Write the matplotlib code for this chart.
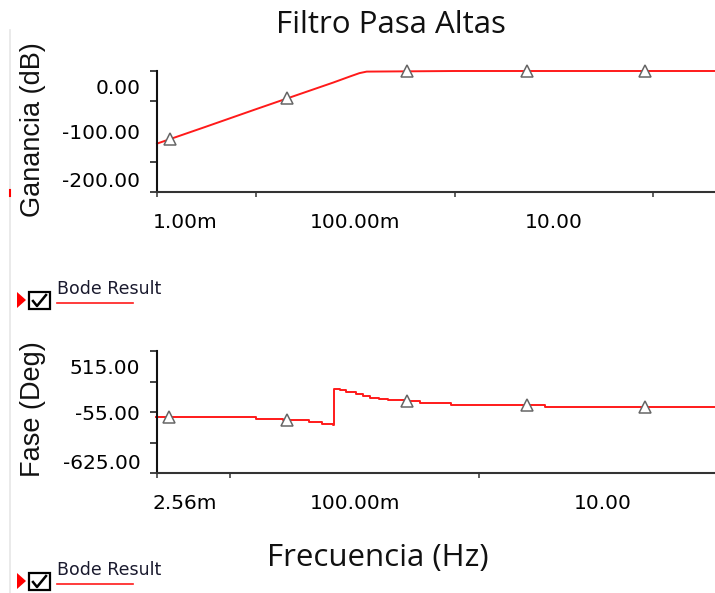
import numpy as np
import matplotlib
matplotlib.use("Agg")
import matplotlib.pyplot as plt
from matplotlib.ticker import FixedLocator, FixedFormatter, NullFormatter
from matplotlib.lines import Line2D
from matplotlib.patches import Polygon, Rectangle

W, H = 715, 593

# gain curve (Hz, dB)
gain_freq = [1e-3, 3e-3, 1e-2, 3e-2, 6e-2, 9e-2, 0.11, 0.13, 1.0, 10.0, 100.0, 422.0]
gain_db = [-120, -93, -63, -36, -19, -8.5, -3.5, -1, 0, 0, 0, 0]
gain_mk_freq = [1.35e-3, 0.0204, 0.331, 5.37, 83.0]
gain_mk_db = [-112, -44, 0, 0, 0]

# phase curve, stepwise as the simulator drew it (Hz, deg)
phase_freq = [2.53e-3, 0.0161, 0.0263, 0.0426, 0.055, 0.0665, 0.0678, 0.0757,
              0.0857, 0.103, 0.116, 0.132, 0.158, 0.185, 0.253, 0.334, 0.603,
              3.40, 80.0]
phase_deg = [-102, -120, -132, -148, -163, -173, 164, 148, 129, 111, 92, 80,
             70, 61, 48, 29, 9, -7, -7]
phase_mk_freq = [3.22e-3, 0.0283, 0.262, 2.44, 21.8]
phase_mk_deg = [-102, -132, 48, 9, -7]

gain_ticks = [0, -50, -100, -150, -200]
gain_lbl_pos = [-26, -100, -180]
gain_lbl = ["0.00", "-100.00", "-200.00"]
phase_ticks = [515, 230, -55, -340, -625]
phase_lbl_pos = [368, -62, -519]
phase_lbl = ["515.00", "-55.00", "-625.00"]

fx_top_ticks = [1e-3, 1e-2, 1e-1, 1, 10, 100]
fx_top_lbl_pos = [1.91e-3, 0.1, 10]
fx_top_lbl = ["1.00m", "100.00m", "10.00"]
fx_bot_ticks = [2.56e-3, 1e-2, 1e-1, 1, 10]
fx_bot_lbl_pos = [4.26e-3, 0.1, 10]
fx_bot_lbl = ["2.56m", "100.00m", "10.00"]

RED = "#ff1a1a"
TICK_FONT = dict(family="DejaVu Sans", size=14.5)


def frac(x, y):
    return x / W, 1 - y / H


def box(left, top, right, bottom):
    return [left / W, 1 - bottom / H, (right - left) / W, (bottom - top) / H]


def style_axes(ax, yt, ylp, yl, xt, xlp, xl):
    for s in ("top", "right"):
        ax.spines[s].set_visible(False)
    ax.spines["left"].set_linewidth(1.5)
    ax.spines["left"].set_color("#111111")
    ax.spines["bottom"].set_linewidth(1.5)
    ax.spines["bottom"].set_color("#333333")
    ax.set_xscale("log")
    # visible tick marks are minor ticks, labels sit on length-0 major ticks
    ax.yaxis.set_minor_locator(FixedLocator(yt))
    ax.yaxis.set_major_locator(FixedLocator(ylp))
    ax.yaxis.set_major_formatter(FixedFormatter(yl))
    ax.xaxis.set_minor_locator(FixedLocator(xt))
    ax.xaxis.set_minor_formatter(NullFormatter())
    ax.xaxis.set_major_locator(FixedLocator(xlp))
    ax.xaxis.set_major_formatter(FixedFormatter(xl))
    ax.tick_params(axis="y", which="minor", length=5, width=1.1, color="#111111")
    ax.tick_params(axis="x", which="minor", length=3.5, width=1.1, color="#333333")
    ax.tick_params(axis="y", which="major", length=0, pad=12)
    ax.tick_params(axis="x", which="major", length=0, pad=15)
    for lab in ax.get_xticklabels() + ax.get_yticklabels():
        lab.set_fontfamily(TICK_FONT["family"])
        lab.set_fontsize(TICK_FONT["size"])


def legend_item(fig, y):
    # red pointer, check box, label and underline like the simulator's legend
    tri = [frac(17, y - 8), frac(17, y + 8), frac(26, y)]
    fig.add_artist(Polygon(tri, closed=True, transform=fig.transFigure,
                           color="#ff0000", lw=0))
    fig.add_artist(Rectangle(frac(29, y + 9), 21 / W, 17 / H,
                             transform=fig.transFigure, fill=False,
                             ec="black", lw=1.6))
    cx = [33, 37, 46]
    cy = [y + 1, y + 6, y - 5]
    fig.add_artist(Line2D([c / W for c in cx], [1 - c / H for c in cy],
                          transform=fig.transFigure, color="black", lw=1.8))
    fig.text(57 / W, 1 - (y - 11) / H, "Bode Result", family="DejaVu Sans",
             size=12.5, color="#1a1a2e", ha="left", va="center")
    fig.add_artist(Line2D([57 / W, 133 / W], [1 - (y + 3) / H] * 2,
                          transform=fig.transFigure, color=RED, lw=1.2))


fig = plt.figure(figsize=(W / 100, H / 100), dpi=100)

ax1 = fig.add_axes(box(157, 71, 715, 192))
ax1.plot(gain_freq, gain_db, color=RED, lw=1.4, clip_on=False)
ax1.plot(gain_mk_freq, gain_mk_db, ls="none", marker="^", ms=8, mfc="white",
         mec="#666666", mew=1.1, clip_on=False)
ax1.set_xlim(1e-3, 422)
ax1.set_ylim(-200, 0)
style_axes(ax1, gain_ticks, gain_lbl_pos, gain_lbl,
           fx_top_ticks, fx_top_lbl_pos, fx_top_lbl)

ax2 = fig.add_axes(box(157, 351, 715, 473))
ax2.plot(phase_freq, phase_deg, color=RED, lw=1.4, drawstyle="steps-post",
         clip_on=False)
ax2.plot(phase_mk_freq, phase_mk_deg, ls="none", marker="^", ms=8, mfc="white",
         mec="#666666", mew=1.1, clip_on=False)
ax2.set_xlim(2.56e-3, 80)
ax2.set_ylim(-625, 515)
style_axes(ax2, phase_ticks, phase_lbl_pos, phase_lbl,
           fx_bot_ticks, fx_bot_lbl_pos, fx_bot_lbl)

fig.text(391 / W, 1 - 33 / H, "Filtro Pasa Altas", family="Open Sans",
         size=22.5, ha="center", va="baseline", color="#111111")
fig.text(378 / W, 1 - 566 / H, "Frecuencia (Hz)", family="Open Sans",
         size=22.5, ha="center", va="baseline", color="#111111")
fig.text(33 / W, 1 - 130 / H, "Ganancia (dB)", family="Liberation Sans",
         size=19.5, rotation=90, ha="center", va="center", color="#111111")
fig.text(33 / W, 1 - 409 / H, "Fase (Deg)", family="Liberation Sans",
         size=19.5, rotation=90, ha="center", va="center", color="#111111")

# window border and the little red mark at the left edge
fig.add_artist(Line2D([10 / W, 10 / W], [1 - 30 / H, 0],
                      transform=fig.transFigure, color="#e6e6e6", lw=1.2))
fig.add_artist(Line2D([10 / W, 10 / W], [1 - 190 / H, 1 - 196 / H],
                      transform=fig.transFigure, color="#ff0000", lw=1.5))

legend_item(fig, 300)
legend_item(fig, 581)

fig.savefig("out.png", dpi=100)
